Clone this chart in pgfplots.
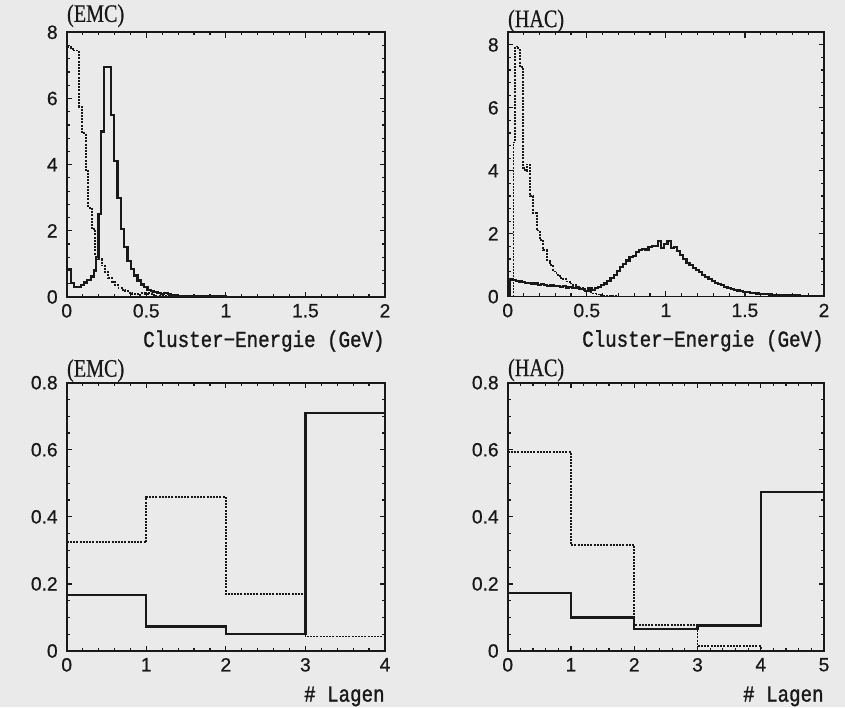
\documentclass[border=0pt]{standalone}
\usepackage{pgfplots}
\usepackage{fontspec}
\pgfplotsset{compat=1.18}
\setmainfont{Liberation Sans}[FakeBold=0.7]
\newfontfamily\monofont{Liberation Mono}[FakeStretch=0.84, FakeBold=1.2]
\newfontfamily\seriffont{Liberation Serif}[FakeStretch=0.8, FakeBold=0.6]
\definecolor{bg}{RGB}{234,234,234}
\definecolor{ink}{RGB}{25,25,25}

\pgfplotsset{
  panel/.style={
    scale only axis, anchor=south west, clip mode=individual,
    axis line style={line width=0.8pt, draw=ink},
    tick align=inside,
    major tick length=2.7pt, minor tick length=1.6pt,
    every tick/.style={line width=0.6pt, draw=ink},
    ticklabel style={font=\fontsize{9.6}{11}\selectfont, text=ink},
    yticklabel style={xshift=-1pt},
    /pgf/number format/assume math mode=true,
    scaled ticks=false,
  },
  solid hist/.style={const plot mark left, line width=1.1pt, draw=ink, no marks},
  dot hist/.style={const plot mark left, line width=0.9pt, draw=ink,
    dash pattern=on 1pt off 0.6pt, no marks},
}
\tikzset{
  tag/.style={anchor=base west, inner sep=0pt, font=\seriffont\fontsize{12.6}{14}\selectfont, text=ink},
  lab/.style={anchor=base east, inner sep=0pt, font=\monofont\fontsize{11.4}{13}\selectfont, text=ink},
}

\begin{document}
\begin{tikzpicture}
\path[use as bounding box, fill=bg] (0,0) rectangle (422.5pt,353.5pt);

% EMC, Cluster-Energie
\begin{axis}[panel, at={(33.35pt,205pt)}, width=159.15pt, height=132.35pt,
  xmin=0, xmax=2, ymin=0, ymax=8,
  xtick={0,0.5,1,1.5,2}, ytick={0,2,4,6,8}, minor x tick num=4, minor y tick num=4]
\addplot[solid hist] coordinates {
(0.004,0)(0.004,0.85)(0.025,0.42)(0.046,0.30)(0.067,0.30)(0.088,0.36)(0.109,0.44)
(0.130,0.52)(0.151,0.62)(0.172,0.80)(0.186,1.20)(0.200,2.50)(0.214,5.00)(0.235,6.95)
(0.277,5.50)(0.298,4.10)(0.319,3.00)(0.340,2.05)(0.361,1.50)(0.382,1.10)(0.403,0.85)
(0.424,0.65)(0.445,0.50)(0.466,0.38)(0.487,0.30)(0.508,0.22)(0.529,0.17)(0.550,0.14)
(0.571,0.11)(0.592,0.10)(0.613,0.12)(0.634,0.08)(0.655,0.05)(0.700,0.04)(0.800,0.02)
(1.000,0.01)(2.000,0.01)};
\addplot[dot hist] coordinates {
(0.002,0)(0.002,7.55)(0.025,7.50)(0.046,7.45)(0.077,5.75)(0.098,4.95)(0.119,3.85)
(0.136,2.70)(0.157,2.05)(0.178,1.30)(0.199,1.15)(0.220,0.95)(0.241,0.75)(0.262,0.58)
(0.283,0.45)(0.304,0.36)(0.325,0.28)(0.346,0.22)(0.367,0.17)(0.388,0.13)(0.409,0.10)
(0.430,0.09)(0.451,0.07)(0.472,0.11)(0.493,0.08)(0.514,0.12)(0.535,0.06)(0.556,0.04)
(0.600,0.03)(0.700,0.01)(2.000,0.00)};
\node[tag, yshift=5.2pt] at (rel axis cs:0,1) {(EMC)};
\node[lab, yshift=-25pt] at (rel axis cs:1,0) {Cluster−Energie (GeV)};
\end{axis}

% HAC, Cluster-Energie
\begin{axis}[panel, at={(253.85pt,205.15pt)}, width=158.15pt, height=132.2pt,
  xmin=0, xmax=2, ymin=0, ymax=8.4,
  xtick={0,0.5,1,1.5,2}, ytick={0,2,4,6,8}, minor x tick num=4, minor y tick num=4]
\addplot[solid hist] coordinates {
(0.014,0)(0.014,0.55)(0.03,0.52)(0.05,0.50)(0.07,0.48)(0.09,0.47)(0.11,0.44)(0.13,0.43)
(0.15,0.40)(0.17,0.42)(0.19,0.38)(0.21,0.40)(0.23,0.36)(0.25,0.34)(0.27,0.38)(0.29,0.33)
(0.31,0.35)(0.33,0.30)(0.35,0.33)(0.37,0.29)(0.39,0.31)(0.41,0.27)(0.43,0.29)(0.45,0.25)
(0.47,0.24)(0.49,0.19)(0.51,0.26)(0.53,0.22)(0.55,0.27)(0.57,0.30)(0.59,0.36)(0.61,0.42)
(0.63,0.50)(0.65,0.60)(0.67,0.70)(0.69,0.82)(0.71,0.95)(0.73,1.05)(0.75,1.15)(0.77,1.27)
(0.79,1.30)(0.81,1.42)(0.83,1.48)(0.85,1.52)(0.87,1.50)(0.89,1.58)(0.91,1.60)(0.93,1.62)
(0.95,1.78)(0.97,1.55)(0.99,1.68)(1.01,1.78)(1.03,1.55)(1.05,1.58)(1.07,1.45)(1.09,1.32)
(1.11,1.20)(1.13,1.08)(1.15,1.00)(1.17,0.92)(1.19,0.85)(1.21,0.78)(1.23,0.70)(1.25,0.63)
(1.27,0.55)(1.29,0.50)(1.31,0.44)(1.33,0.40)(1.35,0.36)(1.37,0.32)(1.39,0.28)(1.41,0.25)
(1.43,0.22)(1.45,0.20)(1.47,0.18)(1.49,0.16)(1.51,0.14)(1.53,0.13)(1.55,0.12)(1.57,0.10)
(1.59,0.09)(1.61,0.08)(1.63,0.08)(1.65,0.07)(1.67,0.06)(1.69,0.06)(1.71,0.05)(1.73,0.05)
(1.75,0.05)(1.77,0.04)(1.79,0.04)(1.81,0.04)(1.85,0.03)(1.90,0.03)(1.95,0.02)(2.00,0.02)};
\addplot[dot hist] coordinates {
(0.036,0)(0.036,4.9)(0.046,7.95)(0.067,7.85)(0.078,7.30)(0.099,4.10)(0.110,4.00)(0.120,4.20)
(0.141,3.20)(0.162,2.65)(0.183,2.10)(0.204,1.80)(0.225,1.48)(0.246,1.15)(0.267,1.00)
(0.288,0.80)(0.309,0.70)(0.330,0.60)(0.351,0.55)(0.372,0.48)(0.393,0.42)(0.414,0.37)
(0.435,0.32)(0.456,0.27)(0.477,0.22)(0.498,0.18)(0.519,0.14)(0.540,0.10)(0.561,0.07)
(0.582,0.05)(0.603,0.03)(0.650,0.01)(0.700,0.005)(2.000,0.005)};
\node[tag, yshift=2.6pt] at (rel axis cs:0,1) {(HAC)};
\node[lab, yshift=-25pt] at (rel axis cs:1,0) {Cluster−Energie (GeV)};
\end{axis}

% EMC, Lagen
\begin{axis}[panel, at={(33.35pt,28pt)}, width=159.15pt, height=134.15pt,
  xmin=0, xmax=4, ymin=0, ymax=0.8,
  xtick={0,1,2,3,4}, ytick={0,0.2,0.4,0.6,0.8}, minor x tick num=4, minor y tick num=3]
\addplot[dot hist] coordinates {(0,0.324)(1,0.46)(2,0.169)(3,0.043)(4,0.043)};
\addplot[solid hist] coordinates {(0,0.167)(1,0.073)(2,0.05)(3,0.709)(4,0.709)};
\node[tag, yshift=3pt] at (rel axis cs:0,1) {(EMC)};
\node[lab, yshift=-25.3pt] at (rel axis cs:1,0) {\# Lagen};
\end{axis}

% HAC, Lagen
\begin{axis}[panel, at={(253.85pt,28pt)}, width=158.15pt, height=134.15pt,
  xmin=0, xmax=5, ymin=0, ymax=0.8,
  xtick={0,1,2,3,4,5}, ytick={0,0.2,0.4,0.6,0.8}, minor x tick num=4, minor y tick num=3]
\addplot[dot hist] coordinates {(0,0.594)(1,0.316)(2,0.078)(3,0.016)(4,0)(5,0)};
\addplot[solid hist] coordinates {(0,0.172)(1,0.1)(2,0.065)(3,0.076)(4,0.475)(5,0.475)};
\node[tag, yshift=3.3pt] at (rel axis cs:0,1) {(HAC)};
\node[lab, yshift=-25.3pt] at (rel axis cs:1,0) {\# Lagen};
\end{axis}
\end{tikzpicture}
\end{document}
